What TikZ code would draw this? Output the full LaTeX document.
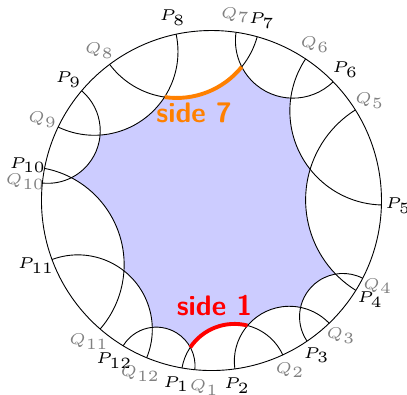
\documentclass[tikz,border=0pt]{standalone}
\usetikzlibrary{calc,intersections}

\begin{document}
\begin{tikzpicture}
    [geodesic/.style={line width=0.6pt},
    plabel/.style={font=\tiny, scale=2.1, inner sep=0pt},
    qlabel/.style={plabel, text=gray},
    sideone/.style={red, line width=2.6pt},
    sideseven/.style={orange, line width=2.6pt},
    sidelabel/.style={font=\sffamily\bfseries\small, scale=2.1}]
        \def\R{4}
        \useasboundingbox (-4.976,-4.553) rectangle (4.6,4.718);
        \coordinate (O) at (0,0);
        % the disc
        \fill[blue!20] (O) circle (\R);
        % points on the boundary
        \foreach \i/\a/\t in {1/260/259.2,2/277.9/277.9,3/304.2/304.2,4/328.1/328.1,5/358.5/358.5,6/44.3/44.3,7/74.4/74.4,8/102/102,9/139.8/139.8,10/169.1/169.1,11/200.3/200.3,12/238.7/238.7}{
            \coordinate (P\i) at (\a:\R);
            \node[plabel] (lP\i) at (\t:1.1*\R) {$P_{\i}$};
        }
        \foreach \i/\a/\t in {1/264.4/267.8,2/294.8/294.8,3/313.8/313.8,4/332.8/332.8,5/32.2/32.2,6/56.4/56.4,7/81.7/82.6,8/126.8/126.8,9/154.4/154.4,10/174.1/174.1,11/229.1/229.1,12/247.6/247.6}{
            \coordinate (Q\i) at (\a:\R);
            \node[qlabel] (lQ\i) at (\t:1.1*\R) {$Q_{\i}$};
        }
        % geodesics P_i -- Q_{i+1}
        \foreach \i/\a/\b in {1/260/294.8,2/277.9/313.8,3/304.2/332.8,4/328.1/392.2,5/358.5/416.4,6/44.3/81.7,7/74.4/126.8,8/102/154.4,9/139.8/174.1,10/169.1/229.1,11/200.3/247.6,12/238.7/264.4}{
            \pgfmathsetmacro{\r}{\R*tan((\b-\a)/2)}
            \fill[white] (P\i) arc[start angle=\a-90, end angle=\b-270, radius=\r]
                arc[start angle=\b, end angle=\a, radius=\R] -- cycle;
        }
        \foreach \i/\a/\b in {1/260/294.8,2/277.9/313.8,3/304.2/332.8,4/328.1/392.2,5/358.5/416.4,6/44.3/81.7,7/74.4/126.8,8/102/154.4,9/139.8/174.1,10/169.1/229.1,11/200.3/247.6,12/238.7/264.4}{
            \pgfmathsetmacro{\r}{\R*tan((\b-\a)/2)}
            \draw[geodesic, name path global=g\i] (P\i) arc[start angle=\a-90, end angle=\b-270, radius=\r];
        }
        \draw[geodesic] (O) circle (\R);

        % side 1
        \path[name intersections={of=g12 and g1, by=v1}];
        \path[name intersections={of=g1 and g2, by=v2}];
        \coordinate (c1) at (277.4:{\R/cos(17.4)});
        \pgfmathanglebetweenpoints{\pgfpointanchor{c1}{center}}{\pgfpointanchor{v1}{center}}
        \let\sa\pgfmathresult
        \pgfmathanglebetweenpoints{\pgfpointanchor{c1}{center}}{\pgfpointanchor{v2}{center}}
        \let\sb\pgfmathresult
        \draw[sideone] (v1) arc[start angle=\sa, end angle=\sb, radius={\R*tan(17.4)}];
        \node[sidelabel, red] (s1) at (0.07,-2.46) {side 1};

        % side 7
        \path[name intersections={of=g6 and g7, by=v7}];
        \path[name intersections={of=g7 and g8, by=v8}];
        \coordinate (c7) at (100.6:{\R/cos(26.2)});
        \pgfmathanglebetweenpoints{\pgfpointanchor{c7}{center}}{\pgfpointanchor{v7}{center}}
        \let\sa\pgfmathresult
        \pgfmathanglebetweenpoints{\pgfpointanchor{c7}{center}}{\pgfpointanchor{v8}{center}}
        \let\sb\pgfmathresult
        \draw[sideseven] (v7) arc[start angle=\sa, end angle=\sb, radius={\R*tan(26.2)}];
        \node[sidelabel, orange] (s7) at (-0.41,2.06) {side 7};
\end{tikzpicture}
\end{document}
